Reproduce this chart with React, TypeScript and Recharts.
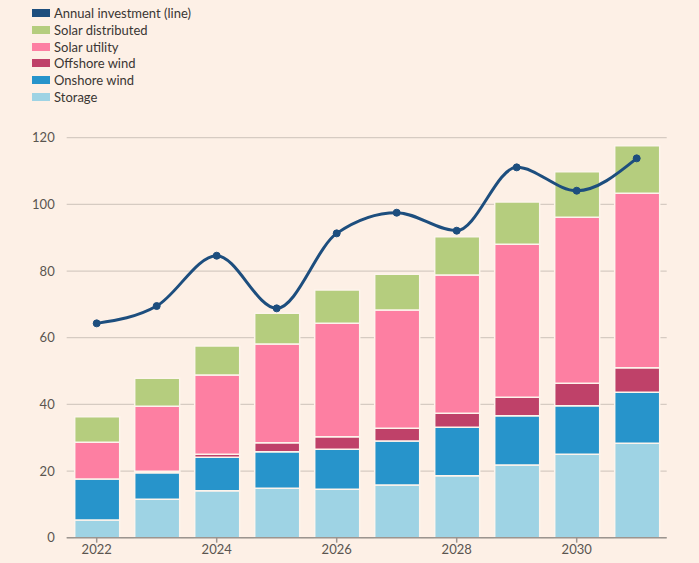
import {
  Bar,
  CartesianGrid,
  ComposedChart,
  Line,
  XAxis,
  YAxis,
} from "recharts";

const years = ["2022", "2023", "2024", "2025", "2026", "2027", "2028", "2029", "2030", "2031"];
const storage = [5.3, 11.5, 14.1, 14.8, 14.5, 15.8, 18.6, 21.8, 25.0, 28.3];
const onshoreWind = [12.3, 8.0, 10.0, 11.0, 12.0, 13.2, 14.5, 14.8, 14.6, 15.3];
const offshoreWind = [0, 0.4, 0.9, 2.7, 3.8, 3.8, 4.2, 5.5, 6.7, 7.4];
const solarUtility = [11.0, 19.5, 23.8, 29.6, 34.0, 35.5, 41.5, 45.9, 49.8, 52.3];
const solarDistributed = [7.7, 8.4, 8.7, 9.2, 10.0, 10.7, 11.5, 12.7, 13.7, 14.3];
const annualInvestment = [64.3, 69.5, 84.6, 68.8, 91.3, 97.5, 92.1, 111.1, 104.1, 113.8];
const yTicks = [0, 20, 40, 60, 80, 100, 120];

const BG = "#fdf0e6";
const SEP = "#fdf4ec";

// legend order, top to bottom
const legendItems = [
  { name: "Annual investment (line)", color: "#1d4e7e" },
  { name: "Solar distributed", color: "#b5cd7e" },
  { name: "Solar utility", color: "#fd7fa2" },
  { name: "Offshore wind", color: "#bf4169" },
  { name: "Onshore wind", color: "#2794cb" },
  { name: "Storage", color: "#9ed3e4" },
];

const data = years.map((year, i) => ({
  year,
  storage: storage[i],
  onshore: onshoreWind[i],
  offshore: offshoreWind[i],
  solarUtility: solarUtility[i],
  solarDistributed: solarDistributed[i],
  investment: annualInvestment[i],
}));

const font = "Lato, 'Open Sans', sans-serif";

export default function App() {
  return (
    <div
      style={{
        position: "absolute",
        left: 0,
        top: 0,
        width: 699,
        height: 563,
        background: BG,
        fontFamily: font,
      }}
    >
      <div style={{ position: "absolute", left: 32, top: 5 }}>
        {legendItems.map((it) => (
          <div
            key={it.name}
            style={{ display: "flex", alignItems: "center", height: 16.7, fontSize: 13, color: "#3a3633" }}
          >
            <span style={{ width: 18, height: 8, background: it.color, marginRight: 4, display: "inline-block" }} />
            {it.name}
          </div>
        ))}
      </div>
      <ComposedChart
        width={699}
        height={563}
        data={data}
        margin={{ top: 137.7, right: 32.3, left: 6.7, bottom: 0 }}
        barSize={45}
        style={{ position: "absolute", left: 0, top: 0 }}
      >
        <CartesianGrid vertical={false} stroke="#d6cbc2" strokeWidth={1.2} />
        <XAxis
          dataKey="year"
          interval={1}
          height={25.3}
          stroke="#9c958f"
          strokeWidth={1.5}
          tickSize={5}
          tickMargin={2}
          tick={{ fontSize: 13, fill: "#5a5550", fontFamily: font }}
        />
        <YAxis
          domain={[0, 120]}
          ticks={yTicks}
          width={60}
          axisLine={false}
          tickLine={false}
          tickSize={4}
          tickMargin={8}
          tick={{ fontSize: 13, fill: "#5a5550", fontFamily: font }}
        />
        <Bar dataKey="storage" stackId="a" fill="#9ed3e4" stroke={SEP} strokeWidth={1.5} isAnimationActive={false} />
        <Bar dataKey="onshore" stackId="a" fill="#2794cb" stroke={SEP} strokeWidth={1.5} isAnimationActive={false} />
        <Bar dataKey="offshore" stackId="a" fill="#bf4169" stroke={SEP} strokeWidth={1.5} isAnimationActive={false} />
        <Bar dataKey="solarUtility" stackId="a" fill="#fd7fa2" stroke={SEP} strokeWidth={1.5} isAnimationActive={false} />
        <Bar dataKey="solarDistributed" stackId="a" fill="#b5cd7e" stroke={SEP} strokeWidth={1.5} isAnimationActive={false} />
        <Line
          dataKey="investment"
          type="monotone"
          stroke="#1d4e7e"
          strokeWidth={3}
          dot={{ r: 3.5, fill: "#1d4e7e", stroke: "#1d4e7e", strokeWidth: 1 }}
          isAnimationActive={false}
        />
      </ComposedChart>
    </div>
  );
}
